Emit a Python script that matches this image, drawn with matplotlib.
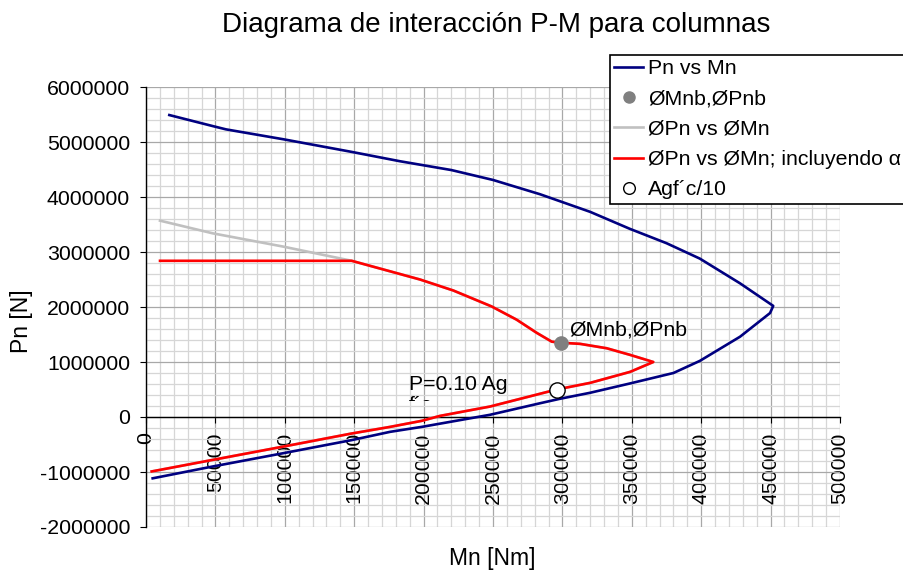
import matplotlib
matplotlib.use("Agg")
import matplotlib.pyplot as plt
from matplotlib.ticker import MultipleLocator, FixedLocator
from matplotlib.transforms import Bbox, TransformedBbox

plt.rcParams['font.family'] = ['Liberation Sans', 'DejaVu Sans']

# Pn vs Mn (nominal curve)
mn_nom = [16800, 48000, 57600, 98900, 148200, 183000, 220000, 250000, 283900,
          320000, 348700, 375000, 399000, 428000, 451900, 449600, 428000,
          399000, 380000, 348700, 319900, 298000, 283900, 247800, 198600,
          175800, 148200, 98500, 48000, 4800]
pn_nom = [5.49e6, 5.29e6, 5.23e6, 5.05e6, 4.82e6, 4.65e6, 4.49e6, 4.31e6, 4.05e6,
          3.73e6, 3.42e6, 3.16e6, 2.88e6, 2.43e6, 2.02e6, 1.89e6, 1.46e6,
          1.02e6, 0.80e6, 0.61e6, 0.44e6, 0.33e6, 0.25e6, 0.04e6, -0.18e6,
          -0.27e6, -0.42e6, -0.66e6, -0.90e6, -1.115e6]

# ØPn vs ØMn; incluyendo α (capped design curve)
mn_alpha = [10100, 148200, 197400, 221400, 249000, 267000, 281500, 292300,
            299000, 312700, 331900, 348700, 365500, 348700, 319900, 295900,
            247800, 211800, 198600, 175800, 148200, 98500, 48000, 4100]
pn_alpha = [2.84e6, 2.84e6, 2.50e6, 2.30e6, 2.01e6, 1.77e6, 1.53e6, 1.37e6,
            1.35e6, 1.33e6, 1.25e6, 1.13e6, 1.00e6, 0.82e6, 0.62e6, 0.50e6,
            0.19e6, 0.02e6, -0.07e6, -0.18e6, -0.30e6, -0.54e6, -0.78e6, -0.99e6]

# ØPn vs ØMn (without cap) - top part visible, rest lies under the red curve
mn_phi = [10100, 48000, 98500] + mn_alpha[1:]
pn_phi = [3.57e6, 3.34e6, 3.10e6] + pn_alpha[1:]

# balance point and P = 0.10 Ag f'c point
mnb_pnb = (299000, 1.35e6)
agfc10 = (295900, 0.50e6)

x_ticks = list(range(0, 500001, 50000))
y_ticks = list(range(-2000000, 6000001, 1000000))

fig = plt.figure(figsize=(9.04, 5.71), dpi=100)
ax = fig.add_axes([146 / 904, 1 - 527 / 571, 694 / 904, 440 / 571])

# spines first (set_position resets tick settings)
for s in ('top', 'right'):
    ax.spines[s].set_visible(False)
ax.spines['bottom'].set_position(('data', 0))
ax.spines['bottom'].set_color('black')
ax.spines['left'].set_color('black')
ax.spines['bottom'].set_linewidth(1.0)
ax.spines['left'].set_linewidth(1.0)

ax.plot(mn_nom, pn_nom, color='#000080', lw=1.9, label='Pn vs Mn', zorder=3)
ax.plot([], [], ls='none', marker='o', ms=8, color='#808080', label='ØMnb,ØPnb')
ax.plot(mn_phi, pn_phi, color='#c0c0c0', lw=1.9, label='ØPn vs ØMn', zorder=3)
ax.plot(mn_alpha, pn_alpha, color='#ff0000', lw=1.9,
        label='ØPn vs ØMn; incluyendo α', zorder=4)
ax.plot([], [], ls='none', marker='o', ms=8.4, mfc='white', mec='black',
        mew=1.0, label='Agf´c/10')

ax.plot(*mnb_pnb, marker='o', ms=9.5, color='#808080', zorder=5, clip_on=False)
ax.plot(*agfc10, marker='o', ms=11, mfc='white', mec='black', mew=1.0,
        zorder=6, clip_on=False)

ax.text(mnb_pnb[0] + 5800, 1.58e6, 'ØMnb,ØPnb', fontsize=15.3,
        ha='left', va='center', zorder=7)
t = ax.text(189500, 0.77e6, 'P=0.10 Ag\nf´c', fontsize=15.3,
            ha='left', va='top', zorder=7, linespacing=1.15)
t.set_clip_on(True)
t.set_clip_box(TransformedBbox(Bbox([[0, 0.29e6], [5e5, 6e6]]), ax.transData))

ax.set_xlim(0, 500000)
ax.set_ylim(-2000000, 6000000)
ax.xaxis.set_major_locator(FixedLocator(x_ticks))
ax.yaxis.set_major_locator(FixedLocator(y_ticks))
ax.set_xticklabels([str(v) for v in x_ticks])
ax.set_yticklabels([str(v) for v in y_ticks])
ax.xaxis.set_minor_locator(MultipleLocator(10000))
ax.yaxis.set_minor_locator(MultipleLocator(200000))
ax.tick_params(axis='x', which='major', length=4, pad=7, direction='out',
               labelrotation=90, labelsize=15.3)
ax.tick_params(axis='y', which='major', length=4.5, pad=7, direction='out',
               labelsize=15.3)
ax.tick_params(which='minor', length=0)

ax.grid(which='major', color='#a8a8a8', lw=0.9, zorder=0)
ax.grid(which='minor', color='#d6d6d6', lw=0.9, zorder=0)
ax.set_axisbelow(True)

fig.text(496 / 904, 1 - 25 / 571, 'Diagrama de interacción P-M para columnas',
         fontsize=20, ha='center', va='center')
fig.text(22 / 904, 1 - 321 / 571, 'Pn [N]', fontsize=16.5, rotation=90,
         ha='center', va='center')
fig.text(492 / 904, 1 - 558 / 571, 'Mn [Nm]', fontsize=16.5,
         ha='center', va='center')

leg = fig.legend(loc='upper left', bbox_to_anchor=(610 / 904, 1 - 55 / 571),
                 fontsize=15.3, frameon=True, fancybox=False, framealpha=1,
                 edgecolor='black', borderpad=0.2, labelspacing=0.53,
                 handlelength=1.35, handletextpad=0.25, borderaxespad=0)
leg.get_frame().set_linewidth(1.2)

fig.savefig('out.png', dpi=100)
